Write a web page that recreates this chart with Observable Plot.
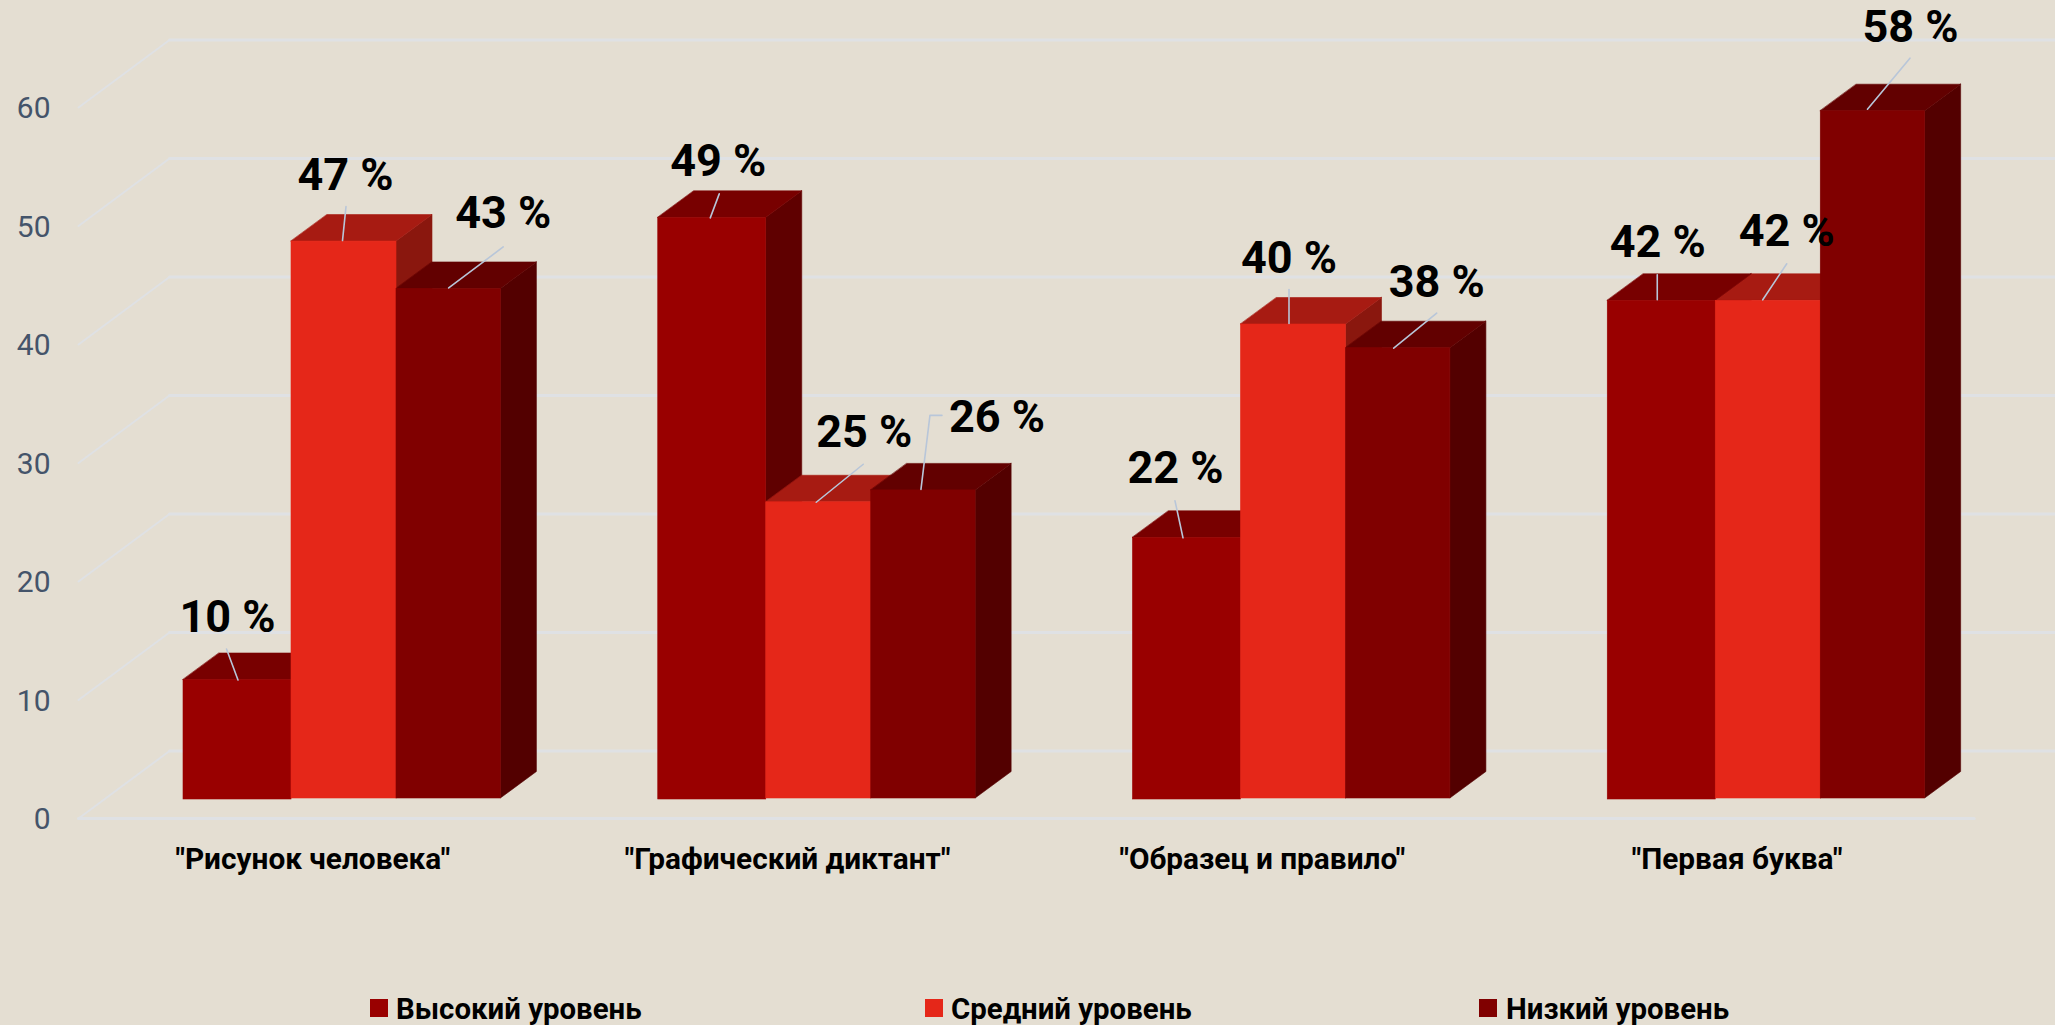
<!DOCTYPE html>
<html lang="ru">
<head>
<meta charset="utf-8">
<title>Уровни</title>
<script src="https://cdn.jsdelivr.net/npm/d3@7"></script>
<script src="https://cdn.jsdelivr.net/npm/@observablehq/plot@0.6"></script>
<style>
  html, body { margin: 0; padding: 0; background: #e4ded2; overflow: hidden; }
  #legend { position: relative; width: 2055px; height: 65px; font: 700 29.4px Roboto, sans-serif; color: #000; }
  #legend .sw { position: absolute; top: 39px; width: 18px; height: 18px; }
  #legend .tx { position: absolute; top: 33px; line-height: 32px; white-space: nowrap; }
</style>
</head>
<body>
<div id="chart"></div>
<div id="legend"></div>
<script>
// ---- data ----
const categories = ['"Рисунок человека"', '"Графический диктант"', '"Образец и правило"', '"Первая буква"'];
const seriesNames = ["Высокий уровень", "Средний уровень", "Низкий уровень"];
const highValues = [10, 49, 22, 42];
const mediumValues = [47, 25, 40, 42];
const lowValues = [43, 26, 38, 58];
const yTicks = [0, 10, 20, 30, 40, 50, 60];

// ---- colours ----
const frontColors = ["#990000", "#e52719", "#800000"];
const topColors = ["#780000", "#a71b12", "#620000"];
const sideColors = ["#5f0000", "#8a170e", "#530000"];
const legendColors = ["#990000", "#e52719", "#800000"];
const gridColor = "#dfe1e4";
const tickColor = "#44546a";
const leaderColor = "#b8c6d9";

// ---- layout constants of the fake 3-D box, in scale units ----
const width = 2055, svgHeight = 960;
const pxX = 474.75, pxY = 11.85;         // pixels per scale unit
const wallDx = 91 / pxX, wallDy = 67.5 / pxY;
const planeDx = 27 / pxX, planeDy = 20 / pxY;
const barDx = 36 / pxX, barDy = 26.5 / pxY;
const barEdges = [78, 186, 291].map((d) => d / pxX); // inside a category band
const barEnds = [186, 291, 395.4].map((d) => d / pxX);
const baseDrop = [1 / pxY, 0, 0];
const floorEnd = 3.993;

// hand-placed data labels: pixel offset of the label centre from the bar's top-front centre
const labelOffsets = [
  [[-10, -62.5], [6, -56], [-11.5, -69], [-4, -58]],
  [[1.5, -66], [45.5, -70], [-4.5, -66], [18.5, -69]],
  [[54.5, -75], [73.5, -73], [38.5, -65.7], [37.5, -83.7]]
];
// hand-placed leader lines, same frame of reference
const leaderOffsets = [
  [[[0.5, 0], [-11, -31]], [[-2, 0], [7, -24]], [[-4, 0], [-12, -37]], [[-4.5, -1], [-4.5, -26]]],
  [[[-1.5, -1], [2, -35]], [[-2.5, 0], [44.5, -38]], [[-4.5, -1], [-4.5, -35]], [[-5.5, -1], [18.5, -37]]],
  [[[0, -1], [54.5, -42]], [[-2.5, -1], [6.5, -75], [18.5, -75]], [[-4.5, 0], [38.5, -35]], [[-5.5, -2], [37, -53]]]
];

// ---- tables built from the arrays ----
const seriesValues = [highValues, mediumValues, lowValues];
const bars = seriesValues.flatMap((vals, s) => vals.map((v, g) => {
  const x1 = g + planeDx + barEdges[s];
  const x2 = g + planeDx + barEnds[s];
  return { s, g, v, x1, x2, cx: (x1 + x2) / 2, y0: planeDy, yf: planeDy - baseDrop[s], yv: v + planeDy };
}));
const bar = (s, g) => bars.find((b) => b.s === s && b.g === g);

const faces = [];
function addSide(b) {
  const id = `side-${b.s}-${b.g}`, fill = sideColors[b.s];
  faces.push({ id, fill, ax: b.x2, ay: b.yv, bx: b.x2 + barDx, by: b.yv + barDy });
  faces.push({ id, fill, ax: b.x2, ay: b.y0, bx: b.x2 + barDx, by: b.y0 + barDy });
}
function addTop(b) {
  const id = `top-${b.s}-${b.g}`, fill = topColors[b.s];
  faces.push({ id, fill, ax: b.x1, ay: b.yv, bx: b.x1 + barDx, by: b.yv + barDy });
  faces.push({ id, fill, ax: b.x2, ay: b.yv, bx: b.x2 + barDx, by: b.yv + barDy });
}
categories.forEach((_, g) => {
  addSide(bar(0, g)); addSide(bar(1, g)); addTop(bar(1, g)); addTop(bar(0, g));
  addSide(bar(2, g)); addTop(bar(2, g));
});

const gridDiagonals = yTicks.flatMap((t) => [
  { t, x: 0, y: t },
  { t, x: wallDx, y: t + wallDy }
]);
const gridBacks = yTicks.flatMap((t) => [
  { t, x: wallDx, y: t + wallDy },
  { t, x: wallDx + 4, y: t + wallDy }
]);
const floorRows = [{ x: 0, y: 0 }, { x: floorEnd, y: 0 }];

const labels = bars.map((b) => {
  const [dx, dy] = labelOffsets[b.s][b.g];
  return { x: b.cx + dx / pxX, y: b.yv - dy / pxY, text: `${b.v} %` };
});
const leaders = bars.flatMap((b) => leaderOffsets[b.s][b.g].map(([dx, dy]) => ({
  id: `${b.s}-${b.g}`, x: b.cx + dx / pxX, y: b.yv - dy / pxY
})));

const plot = Plot.plot({
  width,
  height: svgHeight,
  marginLeft: 78,
  marginRight: width - 78 - 4 * pxX,
  marginTop: 107,
  marginBottom: svgHeight - 818,
  style: { background: "transparent", fontFamily: "Roboto, sans-serif" },
  x: { domain: [0, 4], axis: null },
  y: { domain: [0, 60], axis: null },
  marks: [
    Plot.line(gridDiagonals, { x: "x", y: "y", z: "t", stroke: gridColor, strokeWidth: 2 }),
    Plot.line(gridBacks, { x: "x", y: "y", z: "t", stroke: gridColor, strokeWidth: 3 }),
    Plot.line(floorRows, { x: "x", y: "y", stroke: gridColor, strokeWidth: 3 }),
    Plot.axisY(yTicks, { anchor: "left", tickSize: 0, tickPadding: 28, dy: 1, fontSize: 30, color: tickColor, label: null }),
    Plot.axisX(categories.map((_, i) => i + 0.5), {
      anchor: "bottom", tickSize: 0, tickPadding: 29, dx: -3, fontSize: 29.8, fontWeight: 700, color: "#000", label: null,
      tickFormat: (d) => categories[d - 0.5]
    }),
    Plot.area(faces, { x1: "ax", y1: "ay", x2: "bx", y2: "by", z: "id", fill: "fill", stroke: "fill", strokeWidth: 0.6 }),
    Plot.rect(bars, { x1: "x1", x2: "x2", y1: "yf", y2: "yv", fill: (d) => frontColors[d.s], stroke: (d) => frontColors[d.s], strokeWidth: 0.6 }),
    Plot.line(leaders, { x: "x", y: "y", z: "id", stroke: leaderColor, strokeWidth: 1.6 }),
    Plot.text(labels, { x: "x", y: "y", text: "text", fontSize: 45, fontWeight: 700, fill: "#000" })
  ]
});
document.getElementById("chart").append(plot);

// legend below the SVG
const legendSwatchLeft = [370, 925, 1479];
const legendTextLeft = [396, 951, 1506];
const legend = d3.select("#legend");
seriesNames.forEach((name, i) => {
  legend.append("div").attr("class", "sw")
    .style("left", legendSwatchLeft[i] + "px").style("background", legendColors[i]);
  legend.append("div").attr("class", "tx")
    .style("left", legendTextLeft[i] + "px").text(name);
});
</script>
</body>
</html>
